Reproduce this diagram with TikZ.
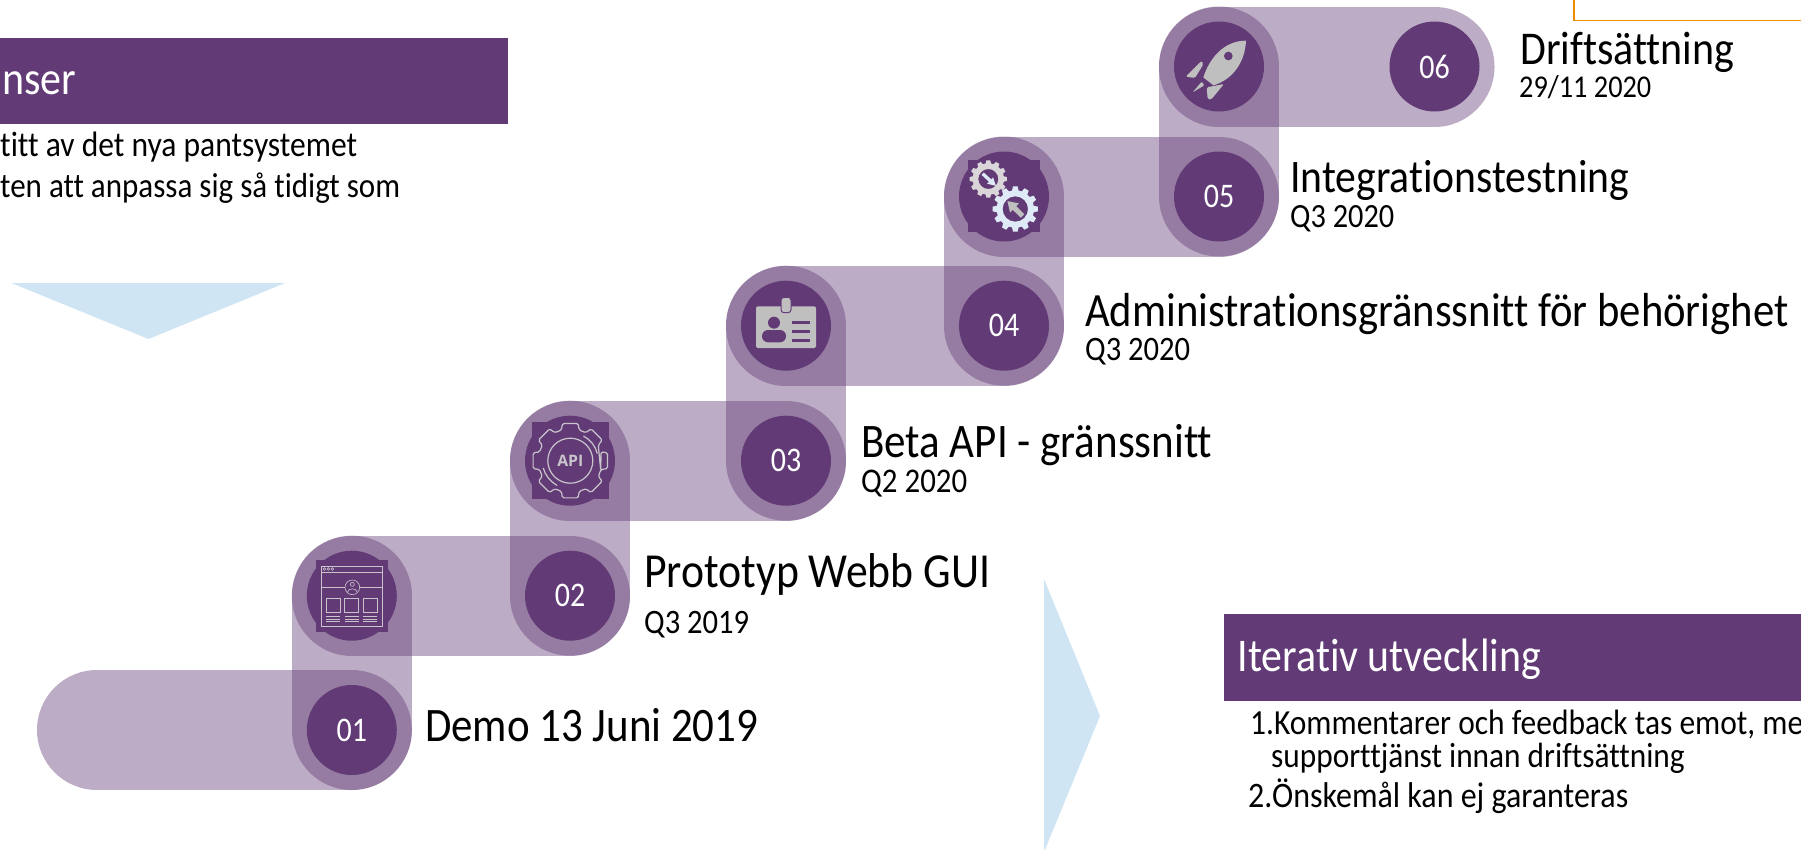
\documentclass[tikz,border=0pt]{standalone}
\usepackage{fontspec}
\usepackage{graphicx}
\setmainfont[Ligatures=NoCommon,Contextuals=NoAlternate]{Carlito}
\newfontfamily\apifont{Open Sans}
\usetikzlibrary{arrows.meta}
\definecolor{plum}{HTML}{623B76}
\definecolor{iconGrey}{HTML}{BFBFBF}
\definecolor{iconLine}{HTML}{C9C4CC}
\definecolor{paleBlue}{HTML}{CFE5F3}
\definecolor{iceBlue}{HTML}{DEEBF7}
\definecolor{gearGrey}{HTML}{D9D5D9}
\definecolor{orangeLine}{HTML}{F08C00}
\tikzset{
  band/.style={draw=plum,line width=120pt,line cap=round,draw opacity=0.42},
  disc/.style={circle,fill=plum,minimum size=90pt,inner sep=0pt,text=white,font=\fontsize{30}{32}\selectfont},
  txt/.style={anchor=base west,inner sep=0pt,text=black},
  whitetxt/.style={anchor=base west,inner sep=0pt,text=white},
  header/.style={fill=plum,draw=none},
  wedge/.style={fill=paleBlue,draw=none},
  thinicon/.style={draw=iconLine,line width=0.6pt},
  apiicon/.style={draw=iconLine,line width=1.2pt},
}
\newcommand{\lbl}[6][txt]{\node[#1] (#2) at (#3,#4) {\scalebox{1}[1.12]{\resizebox{#5pt}{!}{#6}}};}
\newcommand{\numb}[1]{\scalebox{1}[1.15]{#1}}
\newcommand{\gearicon}[8]{% color, cx, cy, teeth, root, tip, halfangle, hole
  \fill[#1,even odd rule,shift={(#2,#3)}] (#7*1.25:#5)
    \foreach \gi in {1,...,#4} {
      -- ({360/#4*\gi-#7*1.25}:#5) -- ({360/#4*\gi-#7*0.75}:#6) -- ({360/#4*\gi+#7*0.75}:#6) -- ({360/#4*\gi+#7*1.25}:#5)
    } -- cycle (0,0) circle (#8);}
\begin{document}
\begin{tikzpicture}[x=1pt,y=-1pt]
\clip (0,0) rectangle (1801,849);
\fill[white] (0,0) rectangle (1801,849);

% anchor coordinates of the step path
\coordinate (s0) at (97,730);
\coordinate (p1) at (351.8,730);
\coordinate (p2) at (351.8,595.7);
\coordinate (p3) at (570,595.7);
\coordinate (p4) at (570,460.7);
\coordinate (p5) at (786,460.7);
\coordinate (p6) at (786,325.7);
\coordinate (p7) at (1004,325.7);
\coordinate (p8) at (1004,196.5);
\coordinate (p9) at (1219,196.5);
\coordinate (p10) at (1219,66.5);
\coordinate (p11) at (1434.5,66.5);

\draw[band] (s0) -- (p1);
\draw[band] (p1) -- (p2);
\draw[band] (p2) -- (p3);
\draw[band] (p3) -- (p4);
\draw[band] (p4) -- (p5);
\draw[band] (p5) -- (p6);
\draw[band] (p6) -- (p7);
\draw[band] (p7) -- (p8);
\draw[band] (p8) -- (p9);
\draw[band] (p9) -- (p10);
\draw[band] (p10) -- (p11);

% numbered discs
\node[disc] (n1) at (p1) {\numb{01}};
\node[disc] (n2) at (p3) {\numb{02}};
\node[disc] (n3) at (p5) {\numb{03}};
\node[disc] (n4) at (p7) {\numb{04}};
\node[disc] (n5) at (p9) {\numb{05}};
\node[disc] (n6) at (p11) {\numb{06}};
% icon discs
\node[disc] (i1) at (p2) {};
\node[disc] (i2) at (p4) {};
\node[disc] (i3) at (p6) {};
\node[disc] (i4) at (p8) {};
\node[disc] (i5) at (p10) {};

% web page icon
\begin{scope}[shift={(270,400)},scale=1/3]
  \fill[plum] (138,480) rectangle (354,695);
  \draw[thinicon] (154,498) rectangle (338,678);
  \draw[thinicon] (154,516) -- (338,516);
  \foreach \cx in {163,175,187} \draw[thinicon] (\cx,507) circle (4);
  \draw[thinicon] (154,562) -- (225,562) (269,562) -- (338,562);
  \draw[thinicon] (247,562) circle (22);
  \draw[thinicon] (247,553) circle (6);
  \draw[thinicon] (232,577) .. controls (234,563) and (260,563) .. (262,577);
  \foreach \sx/\ex in {168/211,224/266,279/322} {
    \draw[thinicon] (\sx,595) rectangle (\ex,637);
    \foreach \ly in {650,657,664} \draw[thinicon] (\sx,\ly) -- (\ex,\ly);
  }
\end{scope}

% API gear icon
\fill[plum] (532,422) rectangle (609,499);
\begin{scope}[shift={(570.3,460.7)}]
  \draw[apiicon,fill=plum,rounded corners=1.5pt] (18:32)
    \foreach \gi in {0,45,...,315} {
      -- ({\gi-16}:32) -- ({\gi-12}:38) -- ({\gi+12}:38) -- ({\gi+16}:32)
    } -- cycle;
  \draw[apiicon] (0,0) circle (22.5);
  \draw[apiicon] (-62:28) arc[start angle=-62,end angle=-15,radius=28];
  \draw[apiicon] (118:28) arc[start angle=118,end angle=165,radius=28];
  \node[inner sep=0pt,text=iconLine] (apitext) at (0,0) {\resizebox{26pt}{!}{\apifont\bfseries API}};
\end{scope}

% badge icon
\begin{scope}[shift={(700,130)},scale=1/3]
  \fill[iconGrey,rounded corners=2pt] (168,529) rectangle (348,654);
  \fill[iconGrey,draw=plum,line width=1pt,rounded corners=3pt] (243,502) rectangle (273,548);
  \fill[plum] (222,578) circle (18);
  \fill[plum,rounded corners=6pt] (186,637) -- (186,600) -- (258,600) -- (258,637) -- cycle;
  \foreach \ly in {577,604,631} \fill[plum] (276,\ly-4.5) rectangle (330,\ly+4.5);
\end{scope}

% twin gears icon
\fill[plum] (967.7,160) rectangle (1040,231.7);
\gearicon{gearGrey}{988.3}{179}{12}{15.7}{18.7}{8}{10}
\gearicon{iceBlue}{1015.3}{209}{12}{18.7}{22.7}{8}{12.7}
\begin{scope}[shift={(700,130)},scale=1/3]
  \coordinate (ga) at (848,131);
  \coordinate (gb) at (888,168);
  \coordinate (gc) at (968,258);
  \coordinate (gd) at (922,213);
  \draw[iceBlue,line width=3.3pt,-{Triangle[length=8pt,width=8pt]}] (ga) -- (gb);
  \draw[iconGrey,line width=5pt,-{Triangle[length=10pt,width=12pt]}] (gc) -- (gd);
\end{scope}

% rocket icon
\begin{scope}[shift={(1150,0)},scale=1/3]
  \fill[iconGrey] (288,122) .. controls (225,122) and (180,170) .. (160,232)
     -- (190,256) .. controls (245,240) and (285,190) .. (288,122) -- cycle;
  \fill[plum] (235,168) circle (13);
  \fill[iconGrey,rounded corners=1.5pt] (155,182) -- (107,230) -- (135,234) -- (160,193) -- cycle;
  \fill[iconGrey,rounded corners=1.5pt] (222,252) -- (170,262) -- (173,297) -- (183,299) -- cycle;
  \fill[iconGrey,rounded corners=1pt] (155,245) -- (128,277) -- (163,256) -- cycle;
\end{scope}

% wedges
\fill[wedge] (11.5,283) -- (285,283) -- (148.5,339) -- cycle;
\fill[wedge] (1044,579) -- (1100,716) -- (1044,852) -- cycle;

% headers
\fill[header] (-2,38) rectangle (508,124);
\fill[header] (1223.8,614) rectangle (1803,701);
\draw[orangeLine,line width=1.5pt] (1574,-5) -- (1574,20.3) -- (1806,20.3);

\lbl[whitetxt]{h1}{2}{94.2}{74}{nser}
\lbl[whitetxt]{h2}{1237.5}{671}{303}{Iterativ utveckling}

\lbl{t1}{0}{156}{357}{titt av det nya pantsystemet}
\lbl{t2}{0}{197}{400}{ten att anpassa sig så tidigt som}
\lbl{b1}{1250}{734}{553}{1.Kommentarer och feedback tas emot, me}
\lbl{b2}{1271}{767}{413.5}{supporttjänst innan driftsättning}
\lbl{b3}{1248}{807.7}{380}{2.Önskemål kan ej garanteras}

\lbl{l6}{1520}{64.7}{214}{Driftsättning}
\lbl{d6}{1519}{97.7}{132}{29/11 2020}
\lbl{l5}{1290}{192.7}{339}{Integrationstestning}
\lbl{d5}{1290}{227}{104}{Q3 2020}
\lbl{l4}{1085}{326.5}{703}{Administrationsgränssnitt för behörighet}
\lbl{d4}{1085}{360.5}{105}{Q3 2020}
\lbl{l3}{861}{457}{351}{Beta API - gränssnitt}
\lbl{d3}{861}{492}{106}{Q2 2020}
\lbl{l2}{644}{587.5}{346}{Prototyp Webb GUI}
\lbl{d2}{644}{633}{105}{Q3 2019}
\lbl{l1}{425}{741}{333}{Demo 13 Juni 2019}
\end{tikzpicture}
\end{document}
